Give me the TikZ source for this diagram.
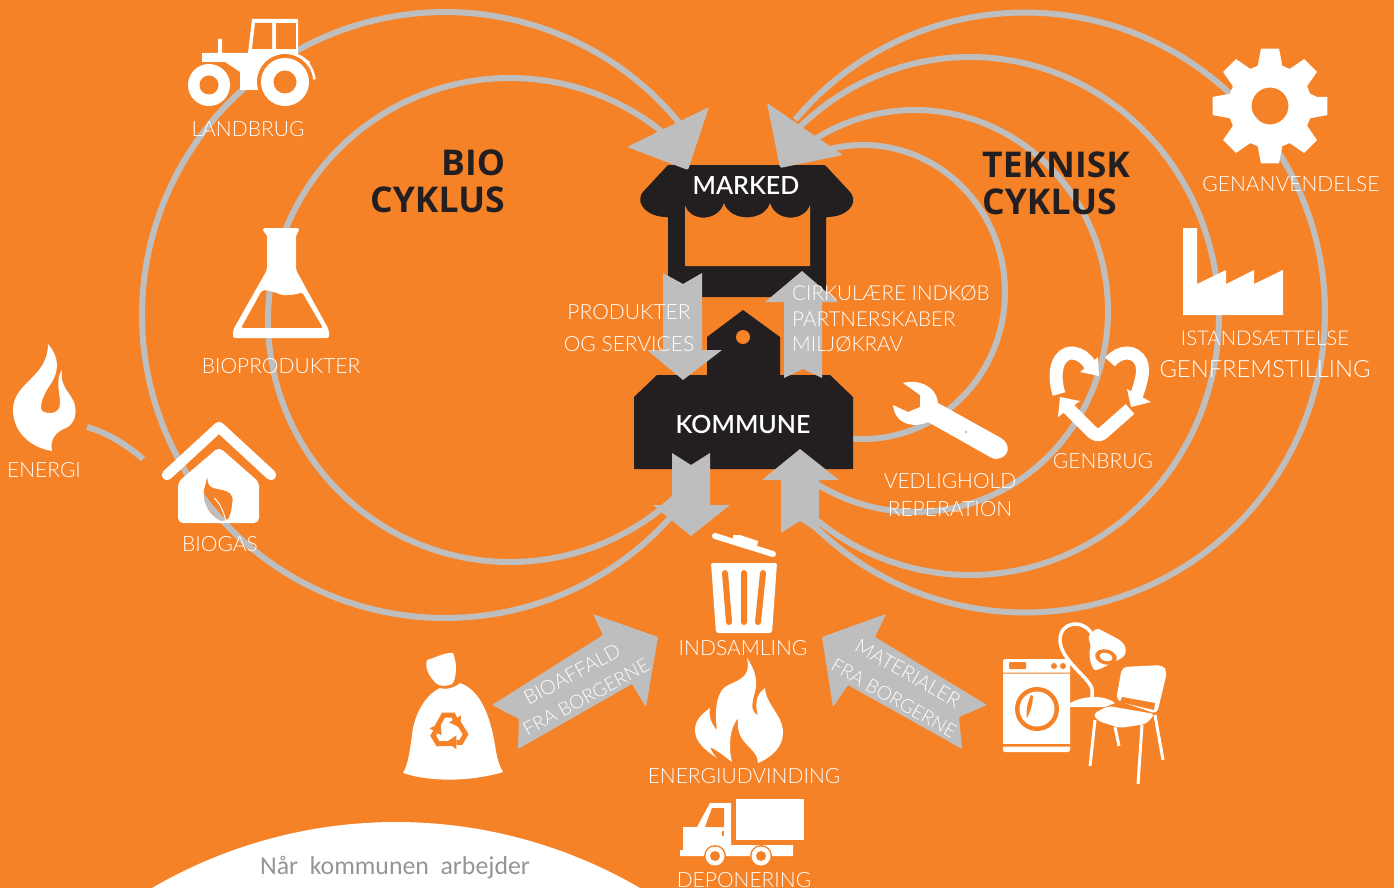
\documentclass[tikz,border=0pt]{standalone}
\usepackage{fontspec}
\setmainfont{Lato}[UprightFont=* Light,BoldFont=* Bold]
\newfontfamily\midf{Lato}[UprightFont=* Semibold]
\newfontfamily\titlef{Open Sans}[UprightFont=* Bold]
\setsansfont{Carlito}
\definecolor{bgorange}{HTML}{F68227}
\definecolor{gr}{HTML}{BEBEBE}
\definecolor{ink}{HTML}{231F20}
\definecolor{capgrey}{HTML}{939598}
\newcommand\fsz[1]{\fontsize{#1}{#1}\selectfont}
\tikzset{
 ring/.style={draw=gr,line width=6pt,line join=round},
 lab/.style={white,inner sep=0pt,text height=17.5pt,text depth=0pt,anchor=center,font=\fsz{21}},
 title/.style={ink,inner sep=0pt,text height=25pt,text depth=0pt,anchor=west,font=\titlef\fsz{35.5}},
 head/.style={white,inner sep=0pt,text height=18pt,text depth=0pt,anchor=center,font=\midf\fsz{25}},
 icon/.style={fill=white,even odd rule},
 hole/.style={fill=bgorange},
}
% centre x, centre y, x radius, y radius, start angle, end angle
\newcommand\garc[6]{\draw[ring] plot[domain=#5:#6,samples=160] ({#1+#3*cos(\x)},{#2+#4*sin(\x)});}
\begin{document}
\begin{tikzpicture}[x=1pt,y=-1pt]
\useasboundingbox (0,0) rectangle (1394,888);
\clip (0,0) rectangle (1394,888);
\fill[bgorange] (0,0) rectangle (1394,888);
% rings
\garc{445}{315}{303}{303}{-36}{-318.4}
\garc{510}{320}{242}{242}{-45}{-315}
\garc{1025}{312.5}{300}{300}{-140}{135}
\garc{970}{316}{249}{259}{-134}{128}
\garc{915}{311}{193}{201}{-121}{121}
\garc{863}{292}{142}{147}{-106}{94}
\coordinate (energiA) at (87,427);
\coordinate (energiB) at (143,459);
\draw[ring] (energiA) .. controls (108,433) and (127,445) .. (energiB);
% market
\fill[ink,rounded corners=1pt] (668,165) -- (825,165) -- (851,193) .. controls (858,205) and (846,217) .. (826,217) -- (826,297) -- (668,297) -- (668,217) .. controls (648,217) and (636,205) .. (642,193) -- cycle;
\fill[hole,rounded corners=0.5pt] (685,205) .. controls (690,222) and (718,222) .. (724,203) .. controls (730,222) and (764,222) .. (770,203) .. controls (776,222) and (804,222) .. (810,205) -- (810,266) -- (685,266) -- cycle;
% kommune
\fill[ink] (743,310) -- (780,337) -- (780,375) -- (830,375) -- (853,397) -- (853,469) -- (634,469) -- (634,397) -- (657,375) -- (707,375) -- (707,337) -- cycle;
\fill[hole] (743,337) circle[radius=7];
% big arrows
\fill[gr] (663,273) -- (683,284) -- (702,273) -- (702,350) -- (722,350) -- (683,380) -- (647,350) -- (663,350) -- cycle;
\fill[gr] (802,271) -- (838,302) -- (822,302) -- (822,378) -- (803,369) -- (784,378) -- (784,302) -- (765,302) -- cycle;
\fill[gr] (672,453) -- (691,465) -- (710,453) -- (710,505) -- (730,505) -- (691,536) -- (653,505) -- (672,505) -- cycle;
\fill[gr] (800,449) -- (839,480) -- (819,480) -- (819,533) -- (800,521) -- (781,533) -- (781,480) -- (762,480) -- cycle;
% market heads
\fill[gr,rounded corners=2pt] (709,107) -- (688,170) -- (627,147) -- cycle;
\fill[gr,rounded corners=2pt] (767,103) -- (843,155) -- (780,168) -- cycle;
% citizen arrows
\fill[gr,rounded corners=1pt] (492,705) -- (603,635) -- (593,614) -- (658,637) -- (646,707) -- (632,684) -- (518,749) -- (519,719) -- cycle;
\fill[gr,rounded corners=1pt] (987,705) -- (875,637) -- (886,614) -- (822,637) -- (833,707) -- (848,685) -- (962,749) -- (959,717) -- cycle;
% tractor
\fill[white] (252,19) -- (298,19) -- (298,56) -- (302,56) -- (310,62) -- (300,90) -- (240,90) -- (240,72) -- (225,62) -- (202,62) -- (202,53) -- (218,53) -- (218,39) -- (222,39) -- (222,53) -- (248,53) -- cycle;
\fill[hole] (255,23) -- (272,23) -- (272,49) -- (252,49) -- cycle;
\fill[hole] (276,23) -- (296,23) -- (296,49) -- (276,49) -- cycle;
\fill[hole] (285,82) circle[radius=28];
\draw[white,line width=2.5pt] plot[domain=-115:-5,samples=30] ({285+29.5*cos(\x)},{82+29.5*sin(\x)});
\fill[hole] (209,85) circle[radius=23];
\fill[white] (285,82) circle[radius=24] (209,85) circle[radius=21];
\fill[hole] (285,82) circle[radius=11.5] (209,85) circle[radius=9.5];
% flask
\fill[icon,rounded corners=2pt] (263,228) -- (299,228) -- (299,232) -- (296,234) -- (296,270) -- (329,330) -- (329,338) -- (233,338) -- (233,330) -- (267,270) -- (267,234) -- (263,232) -- cycle
 (262,290) .. controls (275,291) and (280,295) .. (285,295) .. controls (293,295) and (298,294) .. (302,292) -- (323,328) -- (241,328) -- cycle;
% energy flame
\fill[white] (48,344) .. controls (60,358) and (60,372) .. (48,388) .. controls (42,398) and (38,410) .. (44,412) .. controls (50,414) and (60,414) .. (60,403) .. controls (60,392) and (55,380) .. (62,370) .. controls (60,386) and (68,390) .. (74,402) .. controls (78,414) and (74,424) .. (66,428) .. controls (58,431) and (49,438) .. (52,451) .. controls (28,447) and (13,430) .. (13,410) .. controls (13,382) and (48,378) .. (48,344) -- cycle;
% biogas house
\draw[white,line width=10.5pt,line cap=round,line join=round] (167,475) -- (219,427) -- (271,475);
\fill[icon,rounded corners=5pt] (178,482) -- (219,447) -- (259,482) -- (259,523) -- (178,523) -- cycle
 (207,480) .. controls (212,492) and (234,486) .. (232,506) .. controls (231,512) and (229,518) .. (226,522) .. controls (216,520) and (198,505) .. (207,480) -- cycle;
\draw[white,line width=1pt] (214,498) .. controls (220,503) and (224,512) .. (226,522);
% gear
\fill[icon] (1317.0,96.9)
 \foreach \a in {0,45,...,315} { -- ({1270+58*cos(\a-9)},{106+58*sin(\a-9)}) -- ({1270+58*cos(\a+9)},{106+58*sin(\a+9)}) -- ({1270+42*cos(\a+17)},{106+42*sin(\a+17)}) -- ({1270+42*cos(\a+28)},{106+42*sin(\a+28)}) } -- cycle
 (1270,106) circle[radius=18.5];
% factory
\fill[white] (1183,228) -- (1197,228) -- (1197,284) -- (1226,270) -- (1226,284) -- (1254,270) -- (1254,284) -- (1283,270) -- (1283,315) -- (1183,315) -- cycle;
% wrench
\fill[white] (903,383) .. controls (915,379) and (936,384) .. (938,403) -- (1001,438) .. controls (1012,445) and (1009,458) .. (996,459) .. controls (994,459) and (992,458) .. (990,457) -- (928,422) .. controls (916,428) and (895,426) .. (893,405) -- (908,412) -- (920,407) -- (920,395) -- cycle;
\fill[hole] (966,432) circle[radius=1];
% recycle heart
\draw[white,line width=13pt] (1059,394) .. controls (1052,372) and (1058,352) .. (1073,353) .. controls (1080,354) and (1086,358) .. (1090,365);
\fill[white] (1099,376) -- (1080,372) -- (1098,357) -- cycle;
\draw[white,line width=13pt] (1110,362) .. controls (1120,350) and (1135,350) .. (1141,362) .. controls (1145,372) and (1140,385) .. (1136,397);
\fill[white] (1127,389) -- (1151,402) -- (1131,407) -- cycle;
\draw[white,line width=13pt,line join=round] (1068,408) -- (1091,431) .. controls (1096,436) and (1100,436) .. (1104,432) -- (1130,409);
\fill[white] (1058,417) -- (1060,397) -- (1080,401) -- cycle;
% trash
\draw[white,line width=6pt,line cap=round] (715,536) -- (773,554);
\fill[white] (733,535) -- (740,535) -- (758,541) -- (757,547) -- (733,540) -- cycle;
\fill[white,rounded corners=2pt] (711,563) -- (777,563) -- (772,633) -- (716,633) -- cycle;
\draw[bgorange,line width=6pt,line cap=round] (725,573) -- (729,622) (744,573) -- (744,622) (763,573) -- (758,622);
% fire
\fill[white] (747,658) .. controls (755,670) and (758,680) .. (755,692) .. controls (752,702) and (750,712) .. (758,715) .. controls (755,706) and (755,695) .. (765,688) .. controls (766,705) and (783,715) .. (783,733) .. controls (783,748) and (770,758) .. (758,763) .. controls (758,750) and (742,745) .. (739,732) .. controls (737,725) and (738,722) .. (738,718) .. controls (730,728) and (728,745) .. (732,762) .. controls (725,757) and (720,752) .. (710,747) .. controls (712,752) and (714,755) .. (717,758) .. controls (705,750) and (695,742) .. (695,730) .. controls (695,718) and (705,712) .. (710,708) .. controls (708,716) and (712,725) .. (717,730) .. controls (715,715) and (715,695) .. (725,687) .. controls (735,680) and (752,680) .. (747,658) -- cycle;
% truck
\fill[white] (736,799) rectangle (804,840);
\fill[white] (683,827) -- (697,827) -- (710,803) -- (731,803) -- (731,845) -- (793,845) -- (793,856) -- (680,856) -- (680,850) -- (683,850) -- cycle;
\fill[hole] (705,827) -- (712,808) -- (724,808) -- (724,827) -- cycle;
\fill[hole] (722,831) rectangle (724,836);
\fill[hole] (715,856) circle[radius=11] (761,856) circle[radius=11];
\fill[white] (715,856) circle[radius=9.5] (761,856) circle[radius=9.5];
\fill[hole] (715,856) circle[radius=5] (761,856) circle[radius=5];
% bag
\fill[white] (427,660) .. controls (435,658) and (445,652) .. (453,653) .. controls (458,665) and (456,680) .. (452,684) .. controls (445,687) and (440,686) .. (437,684) .. controls (430,678) and (424,668) .. (427,660) -- cycle;
\fill[white] (440,688) .. controls (445,690) and (455,688) .. (460,683) .. controls (480,690) and (490,715) .. (495,745) .. controls (497,760) and (500,767) .. (503,772) .. controls (470,782) and (430,782) .. (403,773) .. controls (408,765) and (410,750) .. (412,735) .. controls (414,715) and (425,695) .. (440,688) -- cycle;
\foreach \r in {0,120,240}{
 \begin{scope}[shift={(449,731)},rotate=\r]
  \draw[bgorange,line width=5pt] (-12.5,-3) -- (-5.5,-16) -- (4,-16) -- (6,-12);
  \fill[bgorange] (12,-15.4) -- (11,-3.3) -- (0,-8.6) -- cycle;
 \end{scope}
}
% appliances
\fill[white,rounded corners=2pt] (1003,659) rectangle (1070,752);
\fill[hole] (1003,672.5) rectangle (1070,673.7) (1003,744) rectangle (1070,746.5);
\fill[hole,rounded corners=1pt] (1009,662) rectangle (1026,669);
\fill[hole] (1054,666) circle[radius=3] (1063,666) circle[radius=3];
\fill[hole] (1037,709) circle[radius=22];
\fill[white] (1037,709) circle[radius=17.5];
\fill[hole] (1031,695) .. controls (1027,703) and (1026,712) .. (1027,718) .. controls (1031,710) and (1033,702) .. (1033,696) -- cycle;
\draw[white,line width=3.5pt] (1092,700) -- (1092,689) .. controls (1090,678) and (1060,660) .. (1060,640) .. controls (1060,622) and (1082,618) .. (1092,634);
\fill[white] (1070,703) .. controls (1085,695) and (1105,695) .. (1115,703) -- (1105,707) -- (1070,707) -- cycle;
\fill[white,rounded corners=3pt] (1088,636) -- (1097,628) -- (1120,640) .. controls (1128,648) and (1126,655) .. (1120,659) -- (1098,670) .. controls (1092,670) and (1088,655) .. (1091,647) -- cycle;
\fill[hole,rotate around={-15:(1106,657)}] (1106,657) ellipse[x radius=11,y radius=7.5];
\fill[white,rotate around={-15:(1106,657)}] (1106,657) ellipse[x radius=6.5,y radius=4];
\fill[white,rounded corners=5pt] (1122,667) -- (1163,665) -- (1167,672) -- (1157,714) -- (1116,700) -- cycle;
\fill[hole] (1122,697) -- (1155,703) -- (1154,710) -- (1120,702) -- cycle;
\fill[white,rounded corners=4pt] (1093,714) -- (1108,706) -- (1155,714) -- (1146,724) -- (1120,728) -- (1098,721) -- cycle;
\draw[white,line width=3pt] (1095,720) -- (1090,766) (1155,715) -- (1163,760) (1115,727) -- (1119,746) (1142,725) -- (1138,784);
% dome
\fill[white] plot[domain=-121:-59,samples=80] ({396+484*cos(\x)},{1306+484*sin(\x)}) -- cycle;
% labels
\node[title] (bio) at (441,163) {BIO};
\node[title] (cyklusa) at (370,200) {CYKLUS};
\node[title] (teknisk) at (982,165) {TEKNISK};
\node[title] (cyklusb) at (982,202) {CYKLUS};
\node[head] (marked) at (746,185) {MARKED};
\node[head] (kommune) at (743,424) {KOMMUNE};
\node[lab] (landbrug) at (248,128) {LANDBRUG};
\node[lab] (bioprod) at (281,365) {BIOPRODUKTER};
\node[lab] (energi) at (44,469) {ENERGI};
\node[lab] (biogas) at (220,543) {BIOGAS};
\node[lab] (prod) at (629,311) {PRODUKTER};
\node[lab] (ogserv) at (629,343) {OG SERVICES};
\node[lab,anchor=west,font=\fsz{20.6}] (cirk) at (792,292) {CIRKULÆRE INDKØB};
\node[lab,anchor=west,font=\fsz{20.6}] (partner) at (792,318) {PARTNERSKABER};
\node[lab,anchor=west,font=\fsz{20.6}] (milj) at (792,343) {MILJØKRAV};
\node[lab] (vedl) at (950,480) {VEDLIGHOLD};
\node[lab] (rep) at (950,508) {REPERATION};
\node[lab] (genbrug) at (1103,460) {GENBRUG};
\node[lab] (genanv) at (1291,183) {GENANVENDELSE};
\node[lab,font=\fsz{20.3}] (istand) at (1265,337) {ISTANDSÆTTELSE};
\node[lab,font=\fsz{23.8},text height=18pt] (genfrem) at (1265,368) {GENFREMSTILLING};
\node[lab] (indsam) at (743,647) {INDSAMLING};
\node[lab] (energiud) at (744,775) {ENERGIUDVINDING};
\node[lab] (depon) at (744,879) {DEPONERING};
\node[lab,rotate=28.5,font=\fsz{20},text height=14.5pt] (bioaf) at (572,674) {BIOAFFALD};
\node[lab,rotate=28.5,font=\fsz{19},text height=14pt] (frab) at (586,697) {FRA BORGERNE};
\node[lab,rotate=-29.5,font=\fsz{20},text height=14.5pt] (mater) at (908,673) {MATERIALER};
\node[lab,rotate=-29.5,font=\fsz{19},text height=14pt] (fram) at (894,698) {FRA BORGERNE};
\node[inner sep=0pt,text=capgrey,anchor=center,text height=15pt,text depth=4pt,font=\sffamily\fsz{25.8}] (naar) at (395,869) {Når\ \ kommunen\ \ arbejder};
\end{tikzpicture}
\end{document}
